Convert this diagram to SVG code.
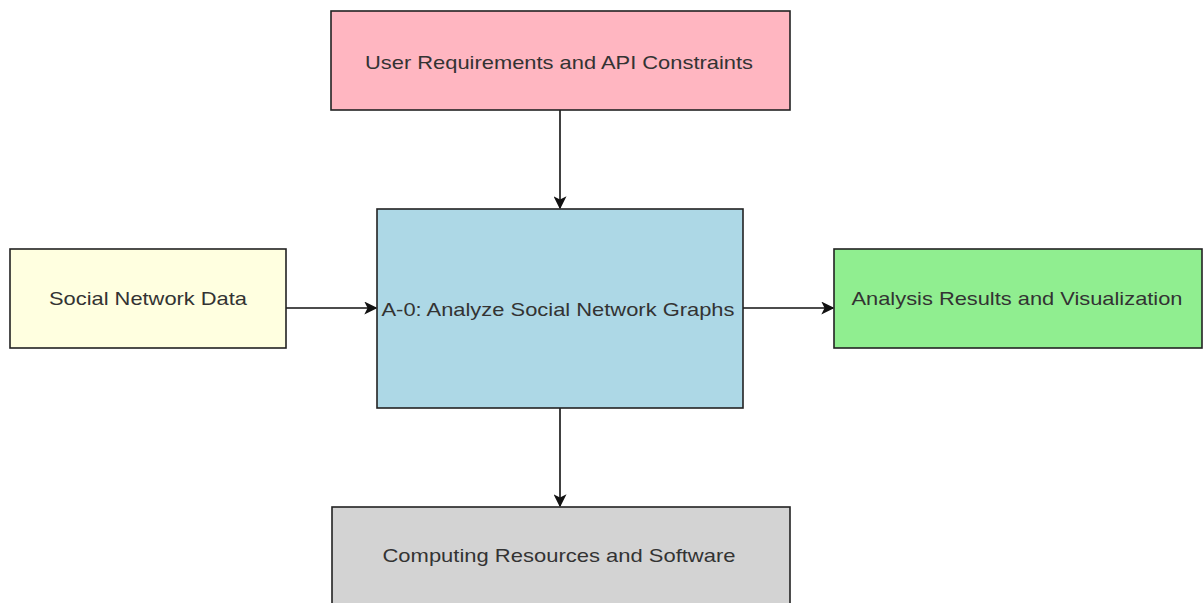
<svg xmlns="http://www.w3.org/2000/svg" width="1204" height="603" viewBox="0 0 1204 603">
  <style>
    .box { stroke: #222; stroke-width: 1.6; }
    .label { font-family: "Liberation Sans", Arial, sans-serif; font-size: 19px; fill: #333; text-anchor: middle; dominant-baseline: central; }
    .edge { stroke: #111; stroke-width: 1.6; fill: none; marker-end: url(#arrow); }
  </style>
  <defs>
    <marker id="arrow" viewBox="0 0 10 10" refX="9" refY="5" markerWidth="13" markerHeight="13" markerUnits="userSpaceOnUse" orient="auto">
      <path d="M0,0 L10,5 L0,10 L2.5,5 Z" fill="#111"/>
    </marker>
  </defs>
  <rect width="1204" height="603" fill="#ffffff"/>

  <g id="connectors">
    <line class="edge" x1="560" y1="110" x2="560" y2="208"/>
    <line class="edge" x1="286" y1="308" x2="376" y2="308"/>
    <line class="edge" x1="743" y1="308" x2="833" y2="308"/>
    <line class="edge" x1="560" y1="408" x2="560" y2="506"/>
  </g>

  <g id="controls">
    <rect class="box" x="331" y="11" width="459" height="99" fill="#FFB6C1"/>
    <text class="label" x="559" y="62" textLength="388" lengthAdjust="spacingAndGlyphs">User Requirements and API Constraints</text>
  </g>

  <g id="inputs">
    <rect class="box" x="10" y="249" width="276" height="99" fill="#FFFFE0"/>
    <text class="label" x="148" y="298" textLength="198" lengthAdjust="spacingAndGlyphs">Social Network Data</text>
  </g>

  <g id="activity">
    <rect class="box" x="377" y="209" width="366" height="199" fill="#ADD8E6"/>
    <text class="label" x="558" y="309" textLength="353" lengthAdjust="spacingAndGlyphs">A-0: Analyze Social Network Graphs</text>
  </g>

  <g id="outputs">
    <rect class="box" x="834" y="249" width="368" height="99" fill="#90EE90"/>
    <text class="label" x="1017" y="298" textLength="331" lengthAdjust="spacingAndGlyphs">Analysis Results and Visualization</text>
  </g>

  <g id="mechanisms">
    <rect class="box" x="332" y="507" width="458" height="110" fill="#D3D3D3"/>
    <text class="label" x="559" y="555" textLength="353" lengthAdjust="spacingAndGlyphs">Computing Resources and Software</text>
  </g>
</svg>
